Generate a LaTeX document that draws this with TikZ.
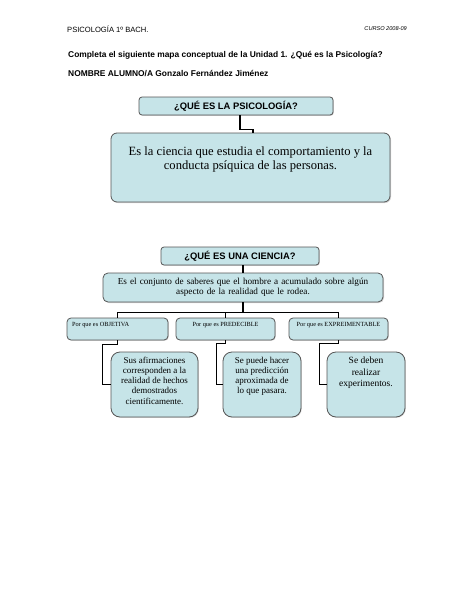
\documentclass[tikz,border=0pt]{standalone}
\usepackage{fontspec}
\setmainfont{Liberation Serif}
\setsansfont{Liberation Sans}
\usepackage{tikz}
\usetikzlibrary{shapes.geometric, positioning, shadows}
\definecolor{boxfill}{RGB}{198,228,232}
\definecolor{boxline}{RGB}{85,85,85}
\newcommand{\toptext}[3]{\parbox[c][#2][t]{#1}{#3}}
\tikzstyle{header} = [inner sep=0pt, font=\sffamily\fontsize{7.6}{9}\selectfont]
\tikzstyle{instr} = [inner sep=0pt, anchor=west, font=\sffamily\bfseries\fontsize{8.4}{10}\selectfont]
\tikzstyle{question} = [draw=boxline, fill=boxfill, rounded corners=3pt, line width=0.8pt, inner sep=0pt, minimum height=18pt, font=\sffamily\bfseries\fontsize{9.4}{11}\selectfont, drop shadow={shadow xshift=0.8pt, shadow yshift=-0.8pt, opacity=0.35}]
\tikzstyle{answer} = [draw=boxline, fill=boxfill, rounded corners=6pt, line width=0.8pt, inner sep=5pt, align=center, drop shadow={shadow xshift=1pt, shadow yshift=-1pt, opacity=0.35}]
\tikzstyle{reason} = [draw=boxline, fill=boxfill, rounded corners=4pt, line width=0.8pt, inner xsep=5pt, inner ysep=4pt, font=\fontsize{6.3}{7.5}\selectfont, drop shadow={shadow xshift=0.8pt, shadow yshift=-0.8pt, opacity=0.3}]
\tikzstyle{example} = [draw=boxline, fill=boxfill, rounded corners=9pt, line width=0.8pt, inner xsep=4pt, inner ysep=5pt, font=\fontsize{9}{10.2}\selectfont, drop shadow={shadow xshift=0.8pt, shadow yshift=-0.8pt, opacity=0.3}]
\tikzstyle{link} = [line width=1.6pt, black]

\begin{document}
\begin{tikzpicture}[x=1pt, y=-1pt]
    \useasboundingbox (0,0) rectangle (474,613);
    % cabecera
    \node (subject) [header, anchor=west] at (67,29) {PSICOLOGÍA 1º BACH.};
    \node (course) [header, anchor=east, font=\sffamily\itshape\fontsize{5.6}{7}\selectfont] at (407,29) {CURSO 2008-09};
    \node (task) [instr] at (68,55) {Completa el siguiente mapa conceptual de la Unidad 1. ¿Qué es la Psicología?};
    \node (student) [instr] at (68,74) {NOMBRE ALUMNO/A Gonzalo Fernández Jiménez};

    % psicologia
    \node (whatpsy) [question, minimum width=194pt] at (236,106) {¿QUÉ ES LA PSICOLOGÍA?};
    \node (psydef) [answer, font=\fontsize{12.6}{14.2}\selectfont] at (250.5,167.5) {\toptext{269pt}{59pt}{\centering\vspace*{9pt}Es la ciencia que estudia el comportamiento y la\\ conducta psíquica de las personas.}};

    % ciencia
    \node (whatsci) [question, minimum width=158pt] at (240,256) {¿QUÉ ES UNA CIENCIA?};
    \node (scidef) [answer, rounded corners=5pt, text width=270pt, minimum height=29pt, font=\fontsize{9.2}{10.5}\selectfont] at (243,287.5) {Es el conjunto de saberes que el hombre a acumulado sobre algún\\ aspecto de la realidad que le rodea.};

    \node (objective) [reason] at (117.5,329) {\toptext{91pt}{14pt}{Por que es OBJETIVA}};
    \node (predictable) [reason] at (225.5,329) {\toptext{89pt}{14pt}{\centering Por que es PREDECIBLE}};
    \node (testable) [reason] at (338.5,329) {\toptext{89pt}{14pt}{\centering Por que es EXPREIMENTABLE}};

    \node (facts) [example] at (154.5,384.5) {\toptext{79pt}{55pt}{\centering Sus afirmaciones\\ corresponden a la\\ realidad de hechos\\ demostrados\\ cientificamente.}};
    \node (forecast) [example] at (262,384.5) {\toptext{70pt}{55pt}{\centering Se puede hacer\\ una predicción\\ aproximada de\\ lo que pasara.}};
    \node (experiments) [example, font=\fontsize{9.5}{11.5}\selectfont] at (366,384.5) {\toptext{70pt}{55pt}{\centering Se deben\\ realizar\\ experimentos.}};

    % conectores
    \draw [link] ([xshift=4pt]whatpsy.south) -- ++(0,14) -| ([xshift=2.5pt]psydef.north);
    \draw [link] ([xshift=3pt]whatsci.south) -- (scidef.north);
    \draw [link] (scidef.south) -- ++(0,10) coordinate (fork);
    \draw [link] (objective.north) |- (fork) -| (testable.north);
    \draw [link] (fork) -| (predictable.north);
    \draw [link] (objective.south) -- ++(0,4) -| ([xshift=-8pt]facts.west) -- (facts.west);
    \draw [link] (predictable.south) -- ++(0,3) -| ([xshift=-6pt]forecast.west) -- (forecast.west);
    \draw [link] (testable.south) -- ++(0,3) -| ([xshift=-7pt]experiments.west) -- (experiments.west);
\end{tikzpicture}
\end{document}
